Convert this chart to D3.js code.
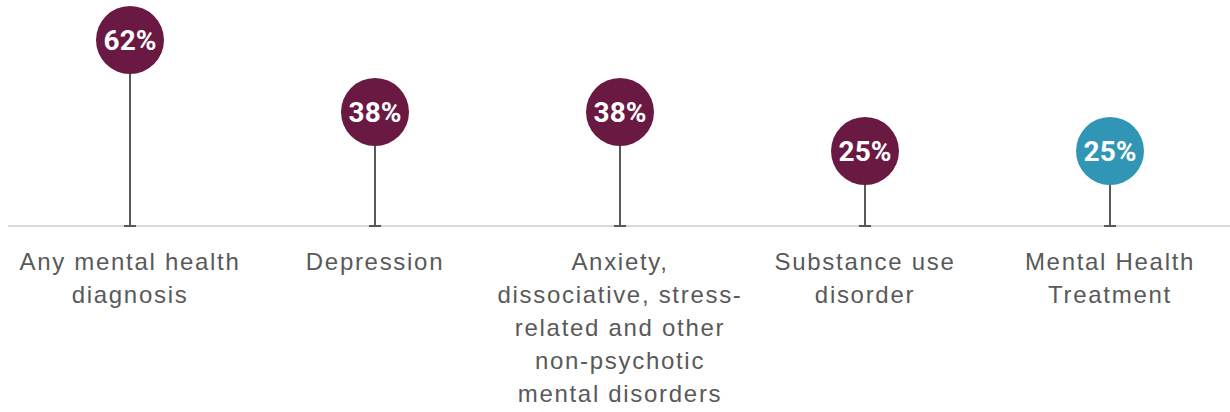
<!DOCTYPE html>
<html>
<head>
<meta charset="utf-8">
<script src="https://cdn.jsdelivr.net/npm/d3@7"></script>
<style>
  body { margin: 0; background: #fff; }
  .label { font-family: "Liberation Sans", Arial, sans-serif; font-size: 24px; letter-spacing: 1.7px; fill: #595959; }
  .value { font-family: Roboto, "Liberation Sans", sans-serif; font-size: 28px; font-weight: bold; fill: #fff; }
</style>
</head>
<body>
<div id="chart"></div>
<script>
// size of the svg
var width = 1230,
    height = 412;

// categories, each label split into lines
var categories = ["Any mental health diagnosis", "Depression",
  "Anxiety, dissociative, stress-related and other non-psychotic mental disorders",
  "Substance use disorder", "Mental Health Treatment"];
var labelLines = [
  ["Any mental health", "diagnosis"],
  ["Depression"],
  ["Anxiety,", "dissociative, stress-", "related and other", "non-psychotic", "mental disorders"],
  ["Substance use", "disorder"],
  ["Mental Health", "Treatment"]
];
var values = [62, 38, 38, 25, 25];
var colors = ["#6a1942", "#6a1942", "#6a1942", "#6a1942", "#3196b6"];

var baseY = 226;

var x = d3.scaleBand()
    .domain(categories)
    .range([7.5, 1232.5]);

var y = d3.scaleLinear()
    .domain([0, 62])
    .range([baseY, 40]);

var svg = d3.select("#chart").append("svg")
    .attr("width", width)
    .attr("height", height);

// baseline
svg.append("line")
    .attr("x1", 8).attr("x2", width)
    .attr("y1", baseY).attr("y2", baseY)
    .attr("stroke", "#d9d9d9")
    .attr("stroke-width", 2);

var r = 34;

var g = svg.selectAll(".lollipop")
    .data(categories)
    .enter().append("g")
    .attr("class", "lollipop")
    .attr("transform", function(d) { return "translate(" + (x(d) + x.bandwidth() / 2) + ",0)"; });

// stems
g.append("line")
    .attr("x1", 0).attr("x2", 0)
    .attr("y1", function(d, i) { return y(values[i]); })
    .attr("y2", baseY)
    .attr("stroke", "#595959")
    .attr("stroke-width", 2);

// small cap at the bottom of each stem
g.append("line")
    .attr("x1", -6).attr("x2", 6)
    .attr("y1", baseY).attr("y2", baseY)
    .attr("stroke", "#595959")
    .attr("stroke-width", 2);

g.append("circle")
    .attr("cy", function(d, i) { return y(values[i]); })
    .attr("r", r)
    .attr("fill", function(d, i) { return colors[i]; });

g.append("text")
    .attr("class", "value")
    .attr("text-anchor", "middle")
    .attr("y", function(d, i) { return y(values[i]); })
    .attr("dy", "0.36em")
    .text(function(d, i) { return values[i] + "%"; });

// category labels
g.append("text")
    .attr("class", "label")
    .attr("text-anchor", "middle")
    .selectAll("tspan")
    .data(function(d, i) { return labelLines[i]; })
    .enter().append("tspan")
    .attr("x", 0)
    .attr("y", function(d, j) { return 270 + j * 33; })
    .text(function(d) { return d; });
</script>
</body>
</html>
